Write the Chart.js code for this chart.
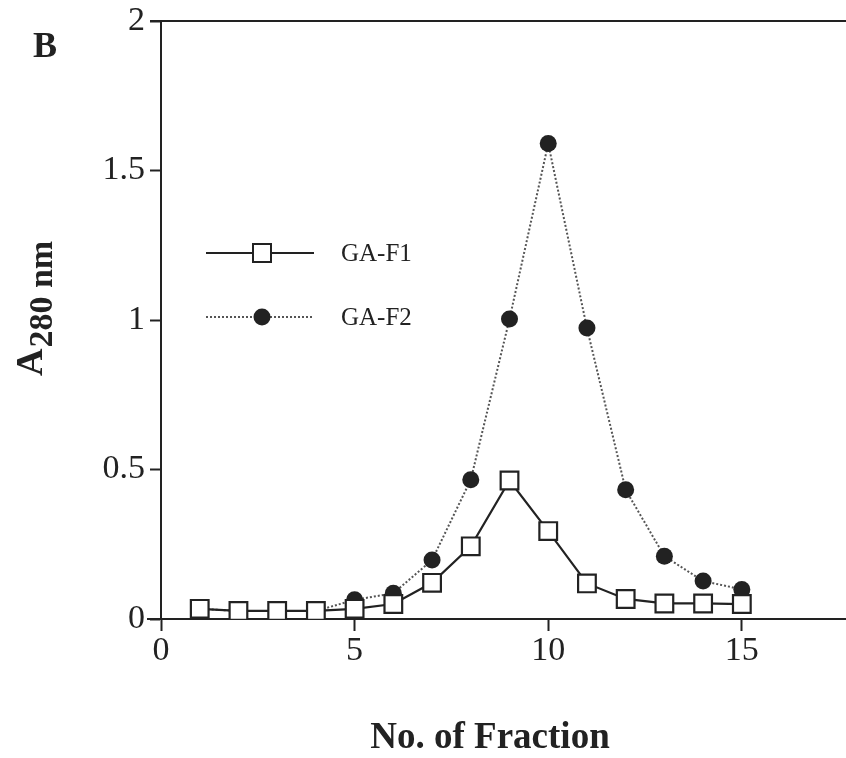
<!DOCTYPE html>
<html>
<head>
<meta charset="utf-8">
<script src="https://cdn.jsdelivr.net/npm/chart.js@4/dist/chart.umd.min.js"></script>
<style>
  html, body { margin: 0; padding: 0; background: #fff; overflow: hidden; }
  #wrap { width: 880px; height: 758px; }
</style>
</head>
<body>
<div id="wrap"><canvas id="fractionChart" width="880" height="758"></canvas></div>
<script>
// fraction numbers and absorbance at 280 nm for each fraction
let fractions = [1, 2, 3, 4, 5, 6, 7, 8, 9, 10, 11, 12, 13, 14, 15];
let gaF1 = [0.034, 0.027, 0.027, 0.027, 0.034, 0.05, 0.121, 0.243, 0.463, 0.294, 0.119, 0.067, 0.052, 0.052, 0.05];
let gaF2 = [0.034, 0.027, 0.027, 0.027, 0.064, 0.086, 0.197, 0.466, 1.003, 1.59, 0.973, 0.432, 0.21, 0.127, 0.099];
let xTicks = [0, 5, 10, 15];
let yTicks = [0, 0.5, 1, 1.5, 2];

const ink = '#222';
const serif = '"Liberation Serif", "DejaVu Serif", serif';

function toPoints(ys) {
    return fractions.map((f, i) => ({x: f, y: ys[i]}));
}

// frame pieces, legend and axis titles drawn straight onto the canvas
const extras = {
    id: 'extras',
    afterDraw(chart) {
        const ctx = chart.ctx;
        const area = chart.chartArea;
        ctx.save();
        ctx.strokeStyle = ink;
        ctx.lineWidth = 2;
        // top rule and left stub of the baseline
        ctx.beginPath();
        ctx.moveTo(150, area.top); ctx.lineTo(chart.width, area.top);
        ctx.moveTo(147, area.bottom); ctx.lineTo(area.left, area.bottom);
        ctx.stroke();

        // legend
        const rows = [
            {y: 253, label: 'GA-F1', dash: [], fill: '#fff', shape: 'rect'},
            {y: 317, label: 'GA-F2', dash: [2, 2], fill: ink, shape: 'circle'}
        ];
        rows.forEach(r => {
            ctx.setLineDash(r.dash);
            ctx.strokeStyle = r.dash.length ? '#555' : ink;
            ctx.lineWidth = 2;
            ctx.beginPath();
            ctx.moveTo(206, r.y); ctx.lineTo(314, r.y);
            ctx.stroke();
            ctx.setLineDash([]);
            ctx.strokeStyle = ink;
            ctx.fillStyle = r.fill;
            if (r.shape === 'rect') {
                ctx.fillRect(253, r.y - 9, 18, 18);
                ctx.strokeRect(253, r.y - 9, 18, 18);
            } else {
                ctx.beginPath();
                ctx.arc(262, r.y, 8.5, 0, Math.PI * 2);
                ctx.fill();
            }
            ctx.fillStyle = ink;
            ctx.font = '25px ' + serif;
            ctx.textAlign = 'left';
            ctx.textBaseline = 'middle';
            ctx.fillText(r.label, 341, r.y + 1);
        });

        // panel letter
        ctx.font = 'bold 36px ' + serif;
        ctx.textAlign = 'left';
        ctx.textBaseline = 'alphabetic';
        ctx.fillText('B', 33, 57);

        // x axis title
        ctx.font = 'bold 37px ' + serif;
        ctx.textAlign = 'center';
        ctx.fillText('No. of Fraction', 490, 748);

        // y axis title with subscript
        ctx.translate(42, 376);
        ctx.rotate(-Math.PI / 2);
        ctx.textAlign = 'left';
        ctx.font = 'bold 38px ' + serif;
        ctx.fillText('A', 0, 0);
        let w = ctx.measureText('A').width;
        ctx.font = 'bold 34px ' + serif;
        ctx.fillText('280 nm', w + 1, 10);
        ctx.restore();
    }
};

new Chart(document.getElementById('fractionChart'), {
    type: 'line',
    data: {
        datasets: [
            {
                label: 'GA-F1',
                data: toPoints(gaF1),
                borderColor: ink,
                borderWidth: 2.2,
                pointStyle: 'rect',
                pointRadius: 12.5,
                pointBackgroundColor: '#fff',
                pointBorderColor: ink,
                pointBorderWidth: 2.2,
                tension: 0
            },
            {
                label: 'GA-F2',
                data: toPoints(gaF2),
                borderColor: '#555',
                borderWidth: 2,
                borderDash: [2, 2],
                pointStyle: 'circle',
                pointRadius: 8.5,
                pointBackgroundColor: ink,
                pointBorderColor: ink,
                pointBorderWidth: 0,
                tension: 0
            }
        ]
    },
    options: {
        responsive: false,
        animation: false,
        layout: { padding: { left: 0, top: 21, right: 22, bottom: 0 } },
        plugins: { legend: { display: false }, tooltip: { enabled: false } },
        scales: {
            x: {
                type: 'linear',
                min: 0,
                max: 18,
                afterBuildTicks: s => { s.ticks = xTicks.map(v => ({value: v})); },
                afterFit: s => { s.height = 139; s.paddingLeft = 0; s.paddingRight = 0; },
                grid: { drawOnChartArea: false, tickLength: 12, tickWidth: 2, tickColor: ink },
                border: { color: ink, width: 2 },
                ticks: { color: ink, font: { family: serif, size: 34 }, padding: 0, maxRotation: 0 }
            },
            y: {
                min: 0,
                max: 2,
                afterBuildTicks: s => { s.ticks = yTicks.map(v => ({value: v})); },
                afterFit: s => { s.width = 161; s.paddingTop = 0; s.paddingBottom = 0; },
                grid: { drawOnChartArea: false, tickLength: 11, tickWidth: 2, tickColor: ink },
                border: { color: ink, width: 2 },
                ticks: {
                    color: ink,
                    font: { family: serif, size: 34 },
                    padding: 5,
                    callback: v => String(v)
                }
            }
        }
    },
    plugins: [extras]
});
</script>
</body>
</html>
